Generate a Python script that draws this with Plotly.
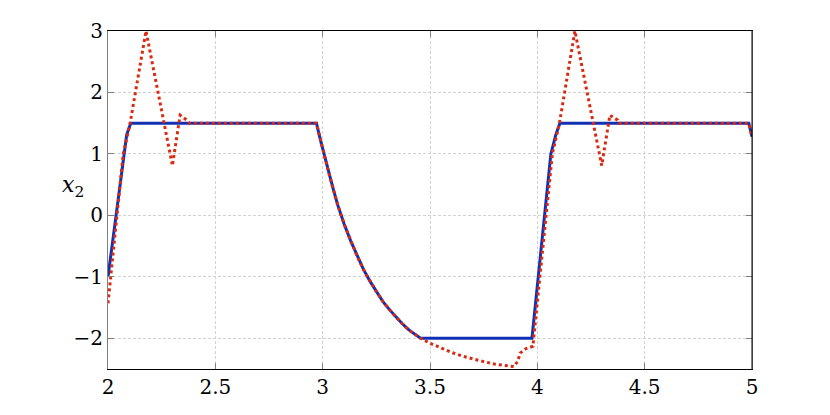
import plotly.graph_objects as go

# Blue (solid) series: time t and state x2
blue_t = [2.0, 2.087, 2.106, 2.971, 2.99, 3.01, 3.03, 3.05, 3.07, 3.10, 3.13, 3.16, 3.19, 3.22,
          3.25, 3.28, 3.31, 3.34, 3.37, 3.40, 3.43, 3.456,
          3.975, 4.063, 4.086, 4.105, 4.985, 5.0]
blue_x2 = [-1.0, 1.31, 1.5, 1.5, 1.22, 0.94, 0.67, 0.42, 0.17, -0.14, -0.41, -0.66, -0.88, -1.07,
           -1.24, -1.40, -1.53, -1.65, -1.76, -1.86, -1.94, -2.0,
           -2.0, 1.0, 1.31, 1.5, 1.5, 1.28]

# Red (dotted) series
red_t = [2.0, 2.071, 2.103, 2.177, 2.30, 2.336, 2.367, 2.38, 2.971, 2.99, 3.01, 3.03, 3.05, 3.07,
         3.10, 3.13, 3.16, 3.19, 3.22, 3.25, 3.28, 3.31, 3.34, 3.37, 3.40, 3.43, 3.456,
         3.50, 3.55, 3.60, 3.65, 3.70, 3.75, 3.80, 3.85, 3.89,
         3.908, 3.92, 3.946, 3.98, 3.983,
         4.07, 4.103, 4.175, 4.30, 4.338, 4.374, 4.38, 4.985, 5.0]
red_x2 = [-1.43, 1.0, 1.5, 3.0, 0.81, 1.63, 1.55, 1.5, 1.5, 1.22, 0.94, 0.67, 0.42, 0.17,
          -0.14, -0.41, -0.66, -0.88, -1.07, -1.24, -1.40, -1.53, -1.65, -1.76, -1.86, -1.94, -2.0,
          -2.08, -2.16, -2.23, -2.29, -2.34, -2.38, -2.42, -2.44, -2.46,
          -2.38, -2.24, -2.17, -2.13, -2.0,
          1.0, 1.5, 3.0, 0.81, 1.63, 1.55, 1.5, 1.5, 1.28]

x_ticks = [2, 2.5, 3, 3.5, 4, 4.5, 5]
x_tick_labels = ["2", "2.5", "3", "3.5", "4", "4.5", "5"]
y_ticks = [-2, -1, 0, 1, 2, 3]
y_tick_labels = ["\u22122", "\u22121", "0", "1", "2", "3"]

font_family = "DejaVu Serif"

fig = go.Figure()
fig.add_trace(go.Scatter(x=blue_t, y=blue_x2, mode="lines",
                         line=dict(color="#1230b4", width=3), showlegend=False))
fig.add_trace(go.Scatter(x=red_t, y=red_x2, mode="lines",
                         line=dict(color="#dc2a12", width=3, dash="dot"), showlegend=False))

fig.update_layout(
    width=830, height=415,
    margin=dict(l=100, r=86, t=23, b=54),
    paper_bgcolor="white", plot_bgcolor="white",
    font=dict(family=font_family, size=20, color="black"),
    xaxis=dict(range=[2, 5], tickvals=x_ticks, ticktext=x_tick_labels,
               showgrid=True, gridcolor="#d2d2d2", griddash="3px,2px", gridwidth=1,
               showline=True, linecolor="black", linewidth=1, mirror="ticks",
               ticks="inside", ticklen=6, tickcolor="#808080", zeroline=False,
               tickfont=dict(family=font_family, size=20, color="black")),
    yaxis=dict(range=[-2.5, 3], tickvals=y_ticks, ticktext=y_tick_labels,
               showgrid=True, gridcolor="#d2d2d2", griddash="3px,2px", gridwidth=1,
               showline=True, linecolor="#808080", linewidth=1, mirror="ticks",
               ticks="inside", ticklen=6, tickcolor="#808080", zeroline=False,
               tickfont=dict(family=font_family, size=20, color="black")),
    shapes=[dict(type="line", xref="paper", yref="paper", x0=1, x1=1, y0=0, y1=1,
                 line=dict(color="black", width=1))],
    annotations=[dict(text="<i>x</i><sub>2</sub>", xref="paper", yref="paper",
                      x=-0.055, y=0.54, showarrow=False, xanchor="center", yanchor="middle",
                      font=dict(family=font_family, size=22, color="black"))],
)

fig.write_html("out.html")
